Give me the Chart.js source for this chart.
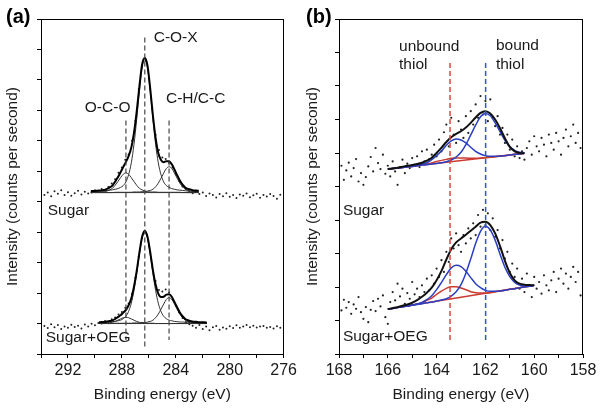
<!DOCTYPE html>
<html>
<head>
<meta charset="utf-8">
<script src="https://cdn.jsdelivr.net/npm/chart.js@4.4.1/dist/chart.umd.min.js"></script>
<style>
  html, body { margin: 0; padding: 0; background: #fff; }
  #wrap { position: relative; width: 601px; height: 409px; }
  canvas { position: absolute; top: 0; }
  #chartA { left: 0; }
  #chartB { left: 300px; }
</style>
</head>
<body>
<div id="wrap">
  <canvas id="chartA" width="300" height="409"></canvas>
  <canvas id="chartB" width="301" height="409"></canvas>
</div>
<script>
// ---------- panel (a): C 1s ----------
const aTicks = [292, 288, 284, 280, 276];

const aFitXSugar = [290.3,290.1,289.9,289.7,289.5,289.3,289.1,288.9,288.7,288.5,
  288.3,288.1,287.9,287.7,287.5,287.3,287.1,286.9,286.7,286.5,
  286.3,286.1,285.9,285.7,285.5,285.3,285.1,284.9,284.7,284.5,
  284.3,284.1,283.9,283.7,283.5,283.3,283.1,282.9,282.7,282.5,282.3];
const aSugarCOX = [5.34,5.34,5.34,5.35,5.35,5.36,5.37,5.38,5.39,5.41,
  5.43,5.47,5.53,5.65,5.89,6.28,6.89,7.71,8.63,9.39,
  9.70,9.39,8.63,7.71,6.89,6.28,5.89,5.65,5.53,5.47,
  5.43,5.41,5.39,5.38,5.37,5.36,5.35,5.35,5.34,5.34,5.34];
const aSugarOCO = [5.31,5.31,5.32,5.32,5.32,5.33,5.35,5.39,5.44,5.54,
  5.66,5.79,5.90,5.95,5.90,5.79,5.66,5.54,5.44,5.39,
  5.35,5.33,5.32,5.32,5.32,5.31,5.31,5.31,5.31,5.31,
  5.31,5.31,5.31,5.31,5.30,5.30,5.30,5.30,5.30,5.30,5.30];
const aSugarCH = [5.30,5.30,5.30,5.30,5.30,5.30,5.30,5.30,5.30,5.31,
  5.31,5.31,5.31,5.31,5.31,5.31,5.32,5.32,5.32,5.33,
  5.33,5.35,5.37,5.41,5.49,5.61,5.77,5.94,6.09,6.15,
  6.09,5.94,5.77,5.61,5.49,5.41,5.37,5.35,5.33,5.33,5.32];
const aSugarEnv = [5.35,5.35,5.36,5.37,5.37,5.39,5.42,5.47,5.53,5.66,
  5.80,5.97,6.14,6.31,6.50,6.78,7.27,7.97,8.79,9.51,
  9.72,9.47,8.72,7.84,7.10,6.60,6.37,6.30,6.33,6.33,
  6.23,6.06,5.87,5.70,5.56,5.47,5.42,5.40,5.37,5.37,5.36];
const aSugarBaseX = [290.3, 282.3];
const aSugarBaseY = [5.30, 5.30];

const aFitXOeg = [289.7,289.5,289.3,289.1,288.9,288.7,288.5,288.3,288.1,287.9,
  287.7,287.5,287.3,287.1,286.9,286.7,286.5,286.3,286.1,285.9,
  285.7,285.5,285.3,285.1,284.9,284.7,284.5,284.3,284.1,283.9,
  283.7,283.5,283.3,283.1,282.9,282.7,282.5,282.3,282.1,281.9,281.7];
const aOegCOX = [1.03,1.04,1.04,1.05,1.05,1.06,1.07,1.09,1.11,1.16,
  1.24,1.40,1.67,2.09,2.64,3.27,3.79,4.00,3.79,3.27,
  2.64,2.09,1.67,1.40,1.24,1.16,1.11,1.09,1.07,1.06,
  1.05,1.05,1.04,1.04,1.03,1.03,1.03,1.02,1.02,1.02,1.02];
const aOegOCO = [1.01,1.01,1.01,1.02,1.03,1.04,1.07,1.11,1.15,1.19,
  1.20,1.19,1.15,1.11,1.07,1.04,1.03,1.02,1.01,1.01,
  1.01,1.00,1.00,1.00,1.00,1.00,1.00,1.00,1.00,1.00,
  1.00,1.00,1.00,1.00,1.00,1.00,1.00,1.00,1.00,1.00,1.00];
const aOegCH = [1.00,1.00,1.00,1.00,1.00,1.00,1.01,1.01,1.01,1.01,
  1.01,1.01,1.01,1.02,1.02,1.02,1.03,1.03,1.05,1.07,
  1.11,1.19,1.31,1.47,1.64,1.79,1.85,1.79,1.64,1.47,
  1.31,1.19,1.11,1.07,1.05,1.03,1.03,1.02,1.02,1.02,1.01];
const aOegEnv = [1.04,1.05,1.05,1.07,1.08,1.10,1.15,1.21,1.27,1.36,
  1.45,1.60,1.83,2.22,2.73,3.33,3.85,4.05,3.85,3.35,
  2.76,2.28,1.98,1.87,1.88,1.95,1.96,1.88,1.71,1.53,
  1.36,1.24,1.15,1.11,1.08,1.06,1.06,1.04,1.04,1.04,1.03];
const aOegBaseX = [289.7, 281.7];
const aOegBaseY = [1.00, 1.00];

// measured spectrum points
const aDotX = [293.75,293.5,293.25,293,292.75,292.5,292.25,292,291.75,291.5,
  291.25,291,290.75,290.5,290.25,290,289.75,289.5,289.25,289,
  288.75,288.5,288.25,288,287.75,287.5,287.25,287,286.75,286.5,
  286.25,286,285.75,285.5,285.25,285,284.75,284.5,284.25,284,
  283.75,283.5,283.25,283,282.75,282.5,282.25,282,281.75,281.5,
  281.25,281,280.75,280.5,280.25,280,279.75,279.5,279.25,279,
  278.75,278.5,278.25,278,277.75,277.5,277.25,277,276.75,276.5,276.25];
const aDotSugar = [5.22,5.30,5.18,5.34,5.26,5.38,5.22,5.31,5.20,5.28,
  5.36,5.24,5.33,5.27,5.30,5.38,5.32,5.42,5.37,5.48,
  5.60,5.74,5.95,6.12,6.38,6.55,7.00,7.65,8.70,9.45,
  9.62,9.05,8.10,7.20,6.70,6.45,6.40,6.28,6.12,5.92,
  5.68,5.50,5.42,5.33,5.28,5.34,5.25,5.30,5.19,5.27,
  5.22,5.14,5.25,5.18,5.28,5.16,5.22,5.12,5.24,5.20,
  5.27,5.15,5.21,5.26,5.13,5.22,5.17,5.25,5.19,5.10,5.23];
const aDotOeg = [0.92,0.85,0.98,0.88,0.95,0.82,0.90,0.86,0.96,0.89,
  0.93,0.84,0.97,0.90,0.99,0.94,1.02,1.00,1.08,1.05,
  1.14,1.20,1.30,1.38,1.52,1.66,1.98,2.50,3.20,3.82,
  3.98,3.55,2.95,2.40,2.10,2.05,2.12,2.02,1.80,1.58,
  1.36,1.18,1.05,0.98,0.93,0.86,0.95,0.82,0.90,0.78,
  0.88,0.92,0.80,0.87,0.83,0.91,0.85,0.94,0.86,0.90,
  0.95,0.88,0.93,0.87,0.90,0.92,0.86,0.89,0.84,0.91,0.86];

// peak position markers (dashed)
const aMarkX = [287.7, 286.3, 284.5];
const aMarkTop = [7.67, 10.39, 7.67];
const aMarkBottom = [0.46, 0.2, 0.46];

// ---------- panel (b): S 2p ----------
const bTicks = [168, 166, 164, 162, 160, 158];

const bFitXSugar = [166.0,165.8,165.6,165.4,165.2,165.0,164.8,164.6,164.4,164.2,
  164.0,163.8,163.6,163.4,163.2,163.0,162.8,162.6,162.4,162.2,
  162.0,161.8,161.6,161.4,161.2,161.0,160.8,160.6,160.4];
const bSugarBound = [5.52,5.54,5.55,5.57,5.59,5.60,5.62,5.64,5.65,5.67,
  5.69,5.71,5.74,5.79,5.88,6.02,6.25,6.54,6.83,7.08,
  7.18,7.11,6.90,6.64,6.38,6.19,6.08,6.02,6.01];
const bSugarBound2 = [5.52,5.54,5.55,5.57,5.59,5.60,5.63,5.67,5.71,5.80,
  5.92,6.06,6.23,6.36,6.42,6.39,6.30,6.17,6.05,5.97,
  5.92,5.90,5.90,5.91,5.92,5.94,5.96,5.97,5.99];
const bSugarUnbound = [5.52,5.54,5.55,5.57,5.59,5.60,5.62,5.65,5.67,5.70,
  5.75,5.78,5.81,5.84,5.85,5.85,5.85,5.84,5.84,5.85,
  5.86,5.87,5.89,5.91,5.92,5.94,5.96,5.97,5.99];
const bSugarEnv = [5.52,5.54,5.56,5.59,5.62,5.64,5.67,5.71,5.77,5.86,
  6.00,6.16,6.33,6.47,6.57,6.65,6.76,6.90,7.06,7.20,
  7.25,7.18,7.00,6.74,6.44,6.18,6.05,6.00,5.99];
const bSugarBaseX = [166.0, 160.4];
const bSugarBaseY = [5.52, 5.99];

const bFitXOeg = [166.0,165.8,165.6,165.4,165.2,165.0,164.8,164.6,164.4,164.2,
  164.0,163.8,163.6,163.4,163.2,163.0,162.8,162.6,162.4,162.2,
  162.0,161.8,161.6,161.4,161.2,161.0,160.8,160.6,160.4,160.2,160.0];
const bOegBound = [1.34,1.36,1.39,1.41,1.43,1.46,1.48,1.50,1.53,1.55,
  1.58,1.61,1.65,1.73,1.86,2.07,2.41,2.84,3.30,3.66,
  3.81,3.70,3.40,2.98,2.59,2.31,2.14,2.06,2.03,2.03,2.05];
const bOegBound2 = [1.34,1.36,1.39,1.41,1.43,1.46,1.49,1.54,1.62,1.74,
  1.92,2.14,2.37,2.57,2.65,2.61,2.47,2.28,2.10,1.98,
  1.90,1.87,1.87,1.88,1.90,1.93,1.95,1.98,2.00,2.02,2.05];
const bOegUnbound = [1.34,1.36,1.39,1.41,1.43,1.46,1.49,1.53,1.60,1.67,
  1.78,1.88,1.96,2.01,2.01,1.97,1.92,1.86,1.83,1.82,
  1.82,1.83,1.86,1.88,1.90,1.93,1.95,1.98,2.00,2.02,2.05];
const bOegEnv = [1.34,1.37,1.40,1.44,1.48,1.53,1.61,1.71,1.83,1.98,
  2.20,2.48,2.82,3.13,3.33,3.45,3.56,3.68,3.80,3.92,
  3.95,3.85,3.60,3.22,2.78,2.42,2.20,2.10,2.07,2.06,2.05];
const bOegBaseX = [166.0, 160.0];
const bOegBaseY = [1.34, 2.05];

const bDotX = [168.0,167.9,167.8,167.7,167.6,167.5,167.4,167.3,167.2,167.1,
  167.0,166.9,166.8,166.7,166.6,166.5,166.4,166.3,166.2,166.1,
  166.0,165.9,165.8,165.7,165.6,165.5,165.4,165.3,165.2,165.1,
  165.0,164.9,164.8,164.7,164.6,164.5,164.4,164.3,164.2,164.1,
  164.0,163.9,163.8,163.7,163.6,163.5,163.4,163.3,163.2,163.1,
  163.0,162.9,162.8,162.7,162.6,162.5,162.4,162.3,162.2,162.1,
  162.0,161.9,161.8,161.7,161.6,161.5,161.4,161.3,161.2,161.1,
  161.0,160.9,160.8,160.7,160.6,160.5,160.4,160.3,160.2,160.1,
  160.0,159.9,159.8,159.7,159.6,159.5,159.4,159.3,159.2,159.1,
  159.0,158.9,158.8,158.7,158.6,158.5,158.4,158.3,158.2,158.1,158.0];
const bDotSugar = [5.35,5.62,5.20,5.48,5.71,5.30,5.55,5.82,5.15,5.40,
  5.05,5.28,5.60,5.88,5.45,6.15,5.70,5.52,5.95,5.38,
  5.62,5.30,5.75,5.45,5.05,5.58,5.80,5.40,5.68,5.55,
  5.85,5.62,5.90,5.58,6.05,5.75,6.10,5.82,5.95,6.25,
  5.90,6.40,6.05,6.62,6.85,6.20,7.05,6.55,6.30,6.95,
  6.70,6.45,7.10,6.60,7.25,6.85,7.45,7.05,7.70,7.15,
  7.55,6.95,7.60,7.05,6.80,7.10,6.55,6.75,6.30,6.55,
  6.10,6.40,5.90,6.20,5.85,6.05,5.80,6.15,6.35,5.95,
  6.50,6.20,6.05,6.45,6.25,5.90,6.55,6.30,6.10,6.60,
  6.35,5.95,6.45,6.70,6.20,6.50,6.85,6.30,6.60,6.15,6.45];
const bDotOeg = [1.45,1.30,1.62,1.38,1.55,1.20,1.48,1.35,1.70,1.25,
  1.05,1.40,0.95,1.32,1.58,1.28,1.65,1.42,1.75,1.10,
  0.90,1.55,1.85,1.60,2.10,1.72,1.95,1.50,1.82,1.65,
  2.15,1.78,1.95,1.70,2.05,1.85,2.25,1.90,2.35,2.10,
  2.55,2.30,2.80,2.45,3.05,2.75,3.45,3.15,3.60,3.25,
  3.05,3.55,3.30,3.75,3.45,3.90,3.55,4.15,3.80,4.30,
  3.85,4.20,3.70,4.05,3.50,3.70,3.15,3.40,2.85,3.05,
  2.45,2.70,2.30,2.55,1.95,2.25,1.85,2.40,2.05,1.70,
  2.30,1.95,2.15,1.80,2.35,2.05,1.90,2.20,2.45,1.85,
  2.25,2.55,2.10,2.40,1.95,2.30,2.60,2.15,2.45,1.75,2.20];

const bMarkX = [163.45, 161.99];
const bMarkTop = [8.69, 8.69];
const bMarkBottom = [0.42, 0.42];

// ---------- helpers ----------
const FONT = "'Liberation Sans', Arial, sans-serif";

function pts(xs, ys) {
  return xs.map((x, i) => ({ x: x, y: ys[i] }));
}

function curve(xs, ys, color, width) {
  return {
    data: pts(xs, ys),
    borderColor: color,
    borderWidth: width,
    pointRadius: 0,
    fill: false,
    cubicInterpolationMode: 'monotone'
  };
}

function dashed(x, top, bottom, color, width) {
  return {
    data: [{ x: x, y: top }, { x: x, y: bottom }],
    borderColor: color,
    borderWidth: width,
    borderDash: [5, 3],
    pointRadius: 0,
    fill: false
  };
}

function dots(xs, ys, color, r) {
  return {
    data: pts(xs, ys),
    showLine: false,
    pointRadius: r,
    pointBorderWidth: 0,
    pointBackgroundColor: color,
    borderColor: color
  };
}

// frame box + text labels drawn on top
const framePlugin = {
  id: 'frame',
  afterDraw(chart, args, opts) {
    const { ctx, chartArea: a, scales } = chart;
    ctx.save();
    ctx.strokeStyle = '#000';
    ctx.lineWidth = 1;
    ctx.strokeRect(Math.round(a.left) + 0.5, Math.round(a.top) + 0.5,
      Math.round(a.right - a.left) - 1, Math.round(a.bottom - a.top));
    ctx.fillStyle = '#1a1a1a';
    ctx.textBaseline = 'middle';
    ctx.textAlign = 'left';
    ctx.font = '15.5px ' + FONT;
    (opts.labels || []).forEach(l => {
      ctx.fillText(l.text, scales.x.getPixelForValue(l.x), scales.y.getPixelForValue(l.y));
    });
    ctx.font = 'bold 20px ' + FONT;
    ctx.fillStyle = '#000';
    ctx.fillText(opts.letter, opts.letterX, 17);
    ctx.restore();
  }
};

function buildPanel(id, p) {
  new Chart(document.getElementById(id), {
    type: 'line',
    data: { datasets: p.datasets },
    plugins: [framePlugin],
    options: {
      responsive: false,
      animation: false,
      layout: { padding: { top: 19, right: p.rightPad, left: 0, bottom: 0 } },
      plugins: {
        legend: { display: false },
        tooltip: { enabled: false },
        frame: { labels: p.labels, letter: p.letter, letterX: p.letterX }
      },
      scales: {
        x: {
          type: 'linear',
          reverse: true,
          min: p.xMin,
          max: p.xMax,
          afterBuildTicks: s => { s.ticks = p.minorTicks.map(v => ({ value: v })); },
          ticks: {
            autoSkip: false,
            maxRotation: 0,
            padding: 3,
            color: '#1a1a1a',
            font: { family: FONT, size: 16 },
            callback: v => (p.majorTicks.includes(v) ? String(v) : '')
          },
          grid: { drawOnChartArea: false, tickLength: 4, color: '#000' },
          border: { display: false },
          title: {
            display: true,
            text: 'Binding energy (eV)',
            color: '#1a1a1a',
            font: { family: FONT, size: 15.5 },
            padding: { top: 0, bottom: 5 }
          },
          afterFit: s => { s.height = 55; }
        },
        y: {
          min: 0,
          max: p.yMax,
          ticks: { display: false, stepSize: 1 },
          grid: { drawOnChartArea: false, tickLength: 4, color: '#000' },
          border: { display: false },
          title: {
            display: true,
            text: 'Intensity (counts per second)',
            color: '#1a1a1a',
            font: { family: FONT, size: 15.5 },
            padding: { top: 3, bottom: 0 }
          },
          afterFit: s => { s.width = p.leftW; }
        }
      }
    }
  });
}

// ---------- panel (a) ----------
const aDatasets = [];
aMarkX.forEach((x, i) => aDatasets.push(dashed(x, aMarkTop[i], aMarkBottom[i], '#444', 1.2)));
aDatasets.push(curve(aFitXSugar, aSugarEnv, '#000', 2));
aDatasets.push(curve(aFitXSugar, aSugarCOX, '#333', 1));
aDatasets.push(curve(aFitXSugar, aSugarOCO, '#333', 1));
aDatasets.push(curve(aFitXSugar, aSugarCH, '#333', 1));
aDatasets.push(curve(aSugarBaseX, aSugarBaseY, '#333', 1));
aDatasets.push(curve(aFitXOeg, aOegEnv, '#000', 2));
aDatasets.push(curve(aFitXOeg, aOegCOX, '#333', 1));
aDatasets.push(curve(aFitXOeg, aOegOCO, '#333', 1));
aDatasets.push(curve(aFitXOeg, aOegCH, '#333', 1));
aDatasets.push(curve(aOegBaseX, aOegBaseY, '#333', 1));
aDatasets.push(dots(aDotX, aDotSugar, '#222', 1));
aDatasets.push(dots(aDotX, aDotOeg, '#222', 1));

buildPanel('chartA', {
  datasets: aDatasets,
  xMin: 276, xMax: 294,
  minorTicks: [294, 292, 290, 288, 286, 284, 282, 280, 278, 276],
  majorTicks: aTicks,
  yMax: 11,
  leftW: 41,
  rightPad: 15,
  letter: '(a)',
  letterX: 6,
  labels: [
    { text: 'C-O-X', x: 285.64, y: 10.39 },
    { text: 'O-C-O', x: 290.75, y: 8.1 },
    { text: 'C-H/C-C', x: 284.73, y: 8.39 },
    { text: 'Sugar', x: 293.5, y: 4.69 },
    { text: 'Sugar+OEG', x: 293.65, y: 0.52 }
  ]
});

// ---------- panel (b) ----------
const bDatasets = [];
bDatasets.push(dashed(bMarkX[0], bMarkTop[0], bMarkBottom[0], '#e0443c', 1.5));
bDatasets.push(dashed(bMarkX[1], bMarkTop[1], bMarkBottom[1], '#3552d0', 1.5));
bDatasets.push(curve(bFitXSugar, bSugarEnv, '#111', 2));
bDatasets.push(curve(bFitXSugar, bSugarBound, '#2a3fc0', 1.5));
bDatasets.push(curve(bFitXSugar, bSugarBound2, '#2a3fc0', 1.5));
bDatasets.push(curve(bFitXSugar, bSugarUnbound, '#cc3a30', 1.5));
bDatasets.push(curve(bSugarBaseX, bSugarBaseY, '#cc3a30', 1.5));
bDatasets.push(curve(bFitXOeg, bOegEnv, '#111', 2));
bDatasets.push(curve(bFitXOeg, bOegBound, '#2a3fc0', 1.5));
bDatasets.push(curve(bFitXOeg, bOegBound2, '#2a3fc0', 1.5));
bDatasets.push(curve(bFitXOeg, bOegUnbound, '#cc3a30', 1.5));
bDatasets.push(curve(bOegBaseX, bOegBaseY, '#cc3a30', 1.5));
bDatasets.push(dots(bDotX, bDotSugar, '#222', 1.1));
bDatasets.push(dots(bDotX, bDotOeg, '#222', 1.1));

buildPanel('chartB', {
  datasets: bDatasets,
  xMin: 158, xMax: 168,
  minorTicks: [168, 167, 166, 165, 164, 163, 162, 161, 160, 159, 158],
  majorTicks: bTicks,
  yMax: 10,
  leftW: 39,
  rightPad: 18,
  letter: '(b)',
  letterX: 6,
  labels: [
    { text: 'unbound', x: 165.54, y: 9.16 },
    { text: 'thiol', x: 165.54, y: 8.63 },
    { text: 'bound', x: 161.57, y: 9.19 },
    { text: 'thiol', x: 161.57, y: 8.63 },
    { text: 'Sugar', x: 167.84, y: 4.27 },
    { text: 'Sugar+OEG', x: 167.84, y: 0.51 }
  ]
});
</script>
</body>
</html>
